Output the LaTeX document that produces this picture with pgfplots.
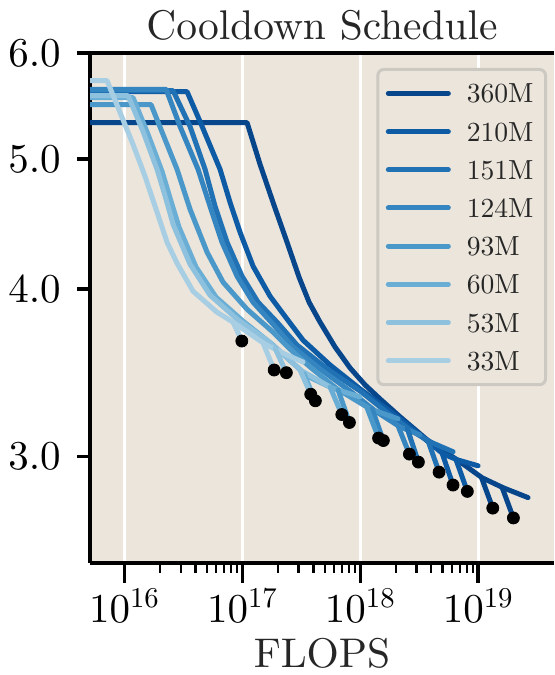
\documentclass[border=0pt]{standalone}
\usepackage{pgfplots}
\pgfplotsset{compat=1.18}
\DeclareFontShape{OT1}{cmr}{m}{n}{<-> cmr10}{}
\newcommand{\cmten}{\fontencoding{OT1}\fontfamily{cmr}\fontseries{m}\fontshape{n}\selectfont}
\definecolor{bgc}{HTML}{EBE5DB}
\definecolor{cA}{HTML}{08468C}
\definecolor{cB}{HTML}{0D5AA5}
\definecolor{cC}{HTML}{2171B5}
\definecolor{cD}{HTML}{3585C0}
\definecolor{cE}{HTML}{4A98C9}
\definecolor{cF}{HTML}{6AAED6}
\definecolor{cG}{HTML}{8DC1DD}
\definecolor{cH}{HTML}{A8CEE4}
\definecolor{lgd}{HTML}{CCC8C2}
\definecolor{txt}{HTML}{262626}
\pgfplotsset{ln/.style={line width=2.5pt, line cap=round, line join=round}}
\begin{document}
\begin{tikzpicture}
\begin{axis}[
  name=ax,
  scale only axis, width=232pt, height=255pt,
  xmode=log, ymode=log,
  xmin=5.1e15, xmax=4.4e19, ymin=2.5, ymax=6.0,
  separate axis lines,
  axis x line*=box, axis y line*=left,
  axis line style={line width=1.9pt, black},
  axis background/.style={fill=bgc},
  xtick={1e16,1e17,1e18,1e19},
  ytick=\empty,
  extra y ticks={3,4,5,6}, extra y tick labels={3.0,4.0,5.0,6.0},
  extra y tick style={major tick length=6.5pt, yticklabel style={anchor=east, inner sep=0pt, xshift=-4pt}},
  yminorticks=false,
  tick align=outside, xtick pos=bottom, ytick pos=left,
  major tick length=10pt, minor tick length=5pt,
  every major tick/.style={line width=1.7pt, black},
  every minor tick/.style={line width=1.2pt, black},
  xmajorgrids, major x grid style={white, line width=1.5pt},
  ticklabel style={font=\fontsize{20.5}{24}\cmten, text=black},
  xticklabel style={anchor=base, yshift=-20pt},
  yticklabel style={anchor=east, inner sep=0pt, xshift=-4pt},
  every axis title shift=0pt,
  title={Cooldown Schedule},
  title style={font=\fontsize{20.74}{25}\cmten, text=txt, at={(0.5,1)}, anchor=base, inner sep=0pt, yshift=6.5pt},
  xlabel={FLOPS},
  xlabel style={font=\fontsize{20.74}{25}\cmten, text=txt, at={(axis description cs:0.5,0)}, anchor=base, inner sep=0pt, yshift=-52.5pt},
  legend style={at={(1,1)}, anchor=north east, xshift=-3.5pt, yshift=-7.5pt, draw=lgd, line width=1.5pt, rounded corners=3pt, fill=bgc, font=\fontsize{13.8}{16}\cmten, inner xsep=4pt, inner ysep=5.2pt, row sep=5.6pt, nodes={inner sep=2pt, text height=9.5pt, text depth=0pt, text=txt}, /tikz/every odd column/.append style={column sep=6pt}},
  legend cell align=left,
  legend image code/.code={\draw[#1, line width=2.5pt, line cap=round] (0pt,0pt) -- (30pt,0pt);},
]
% 360M
\addplot[cA, ln] coordinates {(3e15,5.324) (1.096e17,5.324) (1.413e17,4.955) (1.857e17,4.619) (2.394e17,4.335) (3.026e17,4.083) (3.680e17,3.912) (4.560e17,3.780) (6.114e17,3.622) (8.195e17,3.494) (1.098e18,3.394) (1.472e18,3.313) (2.176e18,3.213) (3.686e18,3.089) (7.022e18,2.974) (1.079e19,2.894) (1.626e19,2.845) (2.650e19,2.797)};
\addlegendentry{360M}
% 210M
\addplot[cB, ln] coordinates {(3e15,5.614) (3.396e16,5.614) (4.377e16,5.333) (6.470e16,4.913) (7.865e16,4.642) (9.561e16,4.410) (1.232e17,4.161) (1.718e17,3.952) (2.394e17,3.800) (3.273e17,3.665) (5.545e17,3.512) (9.961e17,3.371) (2.176e18,3.202) (5.040e18,3.015) (6.622e18,2.985) (9.980e18,2.954)};
\addlegendentry{210M}
% 151M
\addplot[cC, ln] coordinates {(3e15,5.624) (2.584e16,5.624) (3.601e16,5.288) (4.827e16,4.913) (5.866e16,4.611) (7.418e16,4.335) (9.94e16,4.090) (1.359e17,3.912) (1.969e17,3.780) (2.910e17,3.634) (5.545e17,3.476) (9.961e17,3.359) (1.623e18,3.246) (2.645e18,3.142) (3.908e18,3.078) (6.125e18,3.026)};
\addlegendentry{151M}
% 124M
\addplot[cD, ln] coordinates {(3e15,5.638) (2.254e16,5.638) (2.962e16,5.288) (4.210e16,4.913) (5.321e16,4.611) (6.726e16,4.335) (9.018e16,4.090) (1.232e17,3.912) (1.821e17,3.767) (2.692e17,3.622) (4.560e17,3.488) (8.195e17,3.359) (1.335e18,3.246) (2.176e18,3.158) (3.215e18,3.115)};
\addlegendentry{124M}
% 93M
\addplot[cE, ln] coordinates {(3e15,5.491) (1.681e16,5.491) (2.210e16,5.171) (2.793e16,4.913) (3.601e16,4.587) (5.019e16,4.262) (6.859e16,4.048) (1.096e17,3.865) (1.821e17,3.716) (2.539e17,3.609) (3.752e17,3.500) (6.358e17,3.371) (1.211e18,3.257) (2.093e18,3.202)};
\addlegendentry{93M}
% 60M
\addplot[cF, ln] coordinates {(3e15,5.557) (1.183e16,5.557) (1.586e16,5.216) (2.084e16,4.895) (2.485e16,4.650) (2.905e16,4.448) (4.049e16,4.154) (5.982e16,3.946) (1.014e17,3.787) (1.786e17,3.640) (3.538e17,3.446) (5.766e17,3.376) (9.961e17,3.325)};
\addlegendentry{60M}
% 53M
\addplot[cG, ln] coordinates {(3e15,5.576) (1.073e16,5.576) (1.438e16,5.243) (1.890e16,4.913) (2.254e16,4.667) (2.584e16,4.471) (3.601e16,4.175) (5.321e16,3.959) (9.018e16,3.800) (1.620e17,3.665) (2.008e17,3.603) (3.209e17,3.476) (5.545e17,3.382)};
\addlegendentry{53M}
% 33M
\addplot[cH, ln] coordinates {(3e15,5.721) (7.12e15,5.721) (9.18e15,5.416) (1.183e16,5.127) (1.495e16,4.854) (1.890e16,4.564) (2.298e16,4.335) (2.793e16,4.182) (3.818e16,3.986) (6.100e16,3.845) (8.340e16,3.780) (1.557e17,3.640) (2.394e17,3.573) (3.273e17,3.530)};
\addlegendentry{33M}
% cooldown branches
\addplot[cA, ln, forget plot] coordinates {(1.064e19,2.897) (1.33e19,2.747)};
\addplot[cA, ln, forget plot] coordinates {(1.592e19,2.848) (1.99e19,2.701)};
\addplot[cB, ln, forget plot] coordinates {(4.94e18,3.020) (6.12e18,2.858)};
\addplot[cB, ln, forget plot] coordinates {(6.495e18,2.985) (8.09e18,2.827)};
\addplot[cC, ln, forget plot] coordinates {(2.495e18,3.153) (3.11e18,2.973)};
\addplot[cC, ln, forget plot] coordinates {(3.759e18,3.083) (4.66e18,2.922)};
\addplot[cD, ln, forget plot] coordinates {(1.259e18,3.257) (1.57e18,3.085)};
\addplot[cD, ln, forget plot] coordinates {(2.093e18,3.163) (2.61e18,3.014)};
\addplot[cE, ln, forget plot] coordinates {(6.483e17,3.365) (8.09e17,3.182)};
\addplot[cE, ln, forget plot] coordinates {(1.142e18,3.263) (1.43e18,3.098)};
\addplot[cF, ln, forget plot] coordinates {(3.337e17,3.458) (4.16e17,3.303)};
\addplot[cF, ln, forget plot] coordinates {(5.545e17,3.382) (6.97e17,3.226)};
\addplot[cG, ln, forget plot] coordinates {(1.894e17,3.615) (2.36e17,3.466)};
\addplot[cG, ln, forget plot] coordinates {(3.086e17,3.482) (3.80e17,3.340)};
\addplot[cH, ln, forget plot] coordinates {(8.34e16,3.780) (9.89e16,3.66)};
\addplot[cH, ln, forget plot] coordinates {(1.498e17,3.647) (1.86e17,3.482)};
% end points of cooldowns
\addplot[only marks, mark=*, mark size=3pt, black, forget plot] coordinates {(9.89e16,3.66) (1.86e17,3.482) (2.36e17,3.466) (3.80e17,3.340) (4.16e17,3.303) (6.97e17,3.226) (8.09e17,3.182) (1.43e18,3.098) (1.57e18,3.085) (2.61e18,3.014) (3.11e18,2.973) (4.66e18,2.922) (6.12e18,2.858) (8.09e18,2.827) (1.33e19,2.747) (1.99e19,2.701)};
\end{axis}
\pgfresetboundingbox
\path ([xshift=-45pt,yshift=-56pt]ax.south west) rectangle ([yshift=26.5pt]ax.north east);
\end{tikzpicture}
\end{document}
